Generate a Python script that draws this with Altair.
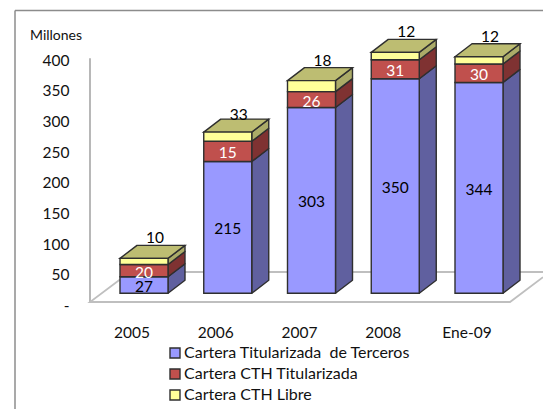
import altair as alt
import pandas as pd

# ---- values ----
categories = ["2005", "2006", "2007", "2008", "Ene-09"]
terceros = [27, 215, 303, 350, 344]
cth_tit_height = [20, 33, 26, 31, 30]   # drawn height of the red block
cth_libre_height = [10, 15, 18, 12, 12]  # drawn height of the yellow block
cth_tit_label = [20, 15, 26, 31, 30]    # printed labels (2006 is printed swapped)
cth_libre_label = [10, 33, 18, 12, 12]
y_ticks = [0, 50, 100, 150, 200, 250, 300, 350, 400]
series = ["Cartera Titularizada\u00a0\u00a0de Terceros", "Cartera CTH Titularizada", "Cartera CTH Libre"]

FRONT = ["#9999FF", "#C0504D", "#FFFF99"]
SIDE = ["#60609F", "#7F3232", "#ABAB68"]
TOP = "#BDBD72"
EDGE = "#2F2F2F"
FONT = "Lato"

# ---- scale geometry ----
W, H = 535, 401
STEP = 83.75          # px per category
PXV = 0.613           # px per value
X_DOM = [(8 - 120) / STEP, (543 - 120) / STEP]
Y_DOM = [(305.3 - 409) / PXV, (305.3 - 8) / PXV]
BAR_W = 48 / STEP
DX = 17 / STEP        # depth of the 3-D box
DY = 13 / PXV
BASE = 12 / PXV       # front floor of the bars over the axis zero

xs = alt.Scale(domain=X_DOM, nice=False, zero=False)
ys = alt.Scale(domain=Y_DOM, nice=False, zero=False)
Y_AXIS = alt.Axis(
    values=y_ticks, domain=False, ticks=False, grid=False, title=None,
    labelPadding=0, offset=-61, labelFont=FONT, labelFontSize=15.5, labelColor="#111",
    labelExpr="datum.value === 0 ? '-' : datum.label")
X = lambda f: alt.X(f, type="quantitative", scale=xs, axis=None, stack=None)
Y = lambda f: alt.Y(f, type="quantitative", scale=ys, axis=Y_AXIS, stack=None)

# ---- tables ----
front, side, top, labels = [], [], [], []
for i, cat in enumerate(categories):
    vals = [terceros[i], cth_tit_height[i], cth_libre_height[i]]
    texts = [terceros[i], cth_tit_label[i], cth_libre_label[i]]
    lo = BASE
    r = i + BAR_W
    for s, v in enumerate(vals):
        hi = lo + v
        front.append(dict(x=i, x2=r, y=lo, y2=hi, serie=series[s]))
        side.append(dict(id=f"{i}-{s}", x=r, y=lo, y2=hi, c=SIDE[s]))
        side.append(dict(id=f"{i}-{s}", x=r + DX, y=lo + DY, y2=hi + DY, c=SIDE[s]))
        if s < 2:
            labels.append(dict(x=i + BAR_W / 2, y=(lo + hi) / 2, t=str(texts[s]),
                               c="white" if s == 1 else "black"))
        else:
            nudge = 3 if i == 1 else 0
            labels.append(dict(x=i + BAR_W / 2 + 11 / STEP, y=hi + (22 - nudge) / PXV,
                               t=str(texts[s]), c="black"))
        lo = hi
    top.append(dict(id=i, y=lo, x=i, x2=r))
    top.append(dict(id=i, y=lo + DY, x=i + DX, x2=r + DX))
df_front, df_side, df_top, df_lab = map(pd.DataFrame, (front, side, top, labels))

# floor outline and wall
fl, fr = -30 / STEP, 390 / STEP
ff, fb = 3.3 / PXV, 33.3 / PXV
fd = 40 / STEP
back = pd.DataFrame(dict(x=[fl + fd], x2=[X_DOM[1]], y=[fb]))
wall = pd.DataFrame(dict(x=[fl], y=[ff], y2=[403]))

axis_layer = alt.Chart(wall).mark_rule(color="#A6A6A6", strokeWidth=1.6).encode(
    x=X("x"), y=Y("y"), y2="y2:Q")
floor_df = pd.DataFrame(dict(
    o=range(4),
    x=[fl + fd, fl, fr, X_DOM[1]],
    y=[fb, ff, ff, ff + (X_DOM[1] - fr) * STEP * 0.75 / PXV],
))
floor_layer = alt.Chart(floor_df).mark_line(color="#BFBFBF", strokeWidth=1.8).encode(
    x=X("x"), y=Y("y"), order="o:Q")
back_layer = alt.Chart(back).mark_rule(color="#BFBFBF", strokeWidth=1.8).encode(
    x=X("x"), x2="x2:Q", y=Y("y"))

# page border (top and left only)
bx, by = (15 - 120) / STEP, (305.3 - 10.5) / PXV
border_v = alt.Chart(pd.DataFrame(dict(x=[bx], y=[Y_DOM[0]], y2=[by]))).mark_rule(
    color="#8C8C8C", strokeWidth=1.5).encode(x=X("x"), y=Y("y"), y2="y2:Q")
border_h = alt.Chart(pd.DataFrame(dict(x=[bx], x2=[X_DOM[1]], y=[by]))).mark_rule(
    color="#8C8C8C", strokeWidth=1.5).encode(x=X("x"), x2="x2:Q", y=Y("y"))

sides = alt.Chart(df_side).mark_area(stroke=EDGE, strokeWidth=1.4, strokeJoin="round", opacity=1).encode(
    x=X("x"), y=Y("y"), y2="y2:Q", detail="id:N",
    fill=alt.Fill("c:N", scale=None))
tops = alt.Chart(df_top).mark_area(orient="horizontal", fill=TOP, stroke=EDGE, strokeWidth=1.4, opacity=1).encode(
    y=Y("y"), x=X("x"), x2="x2:Q", detail="id:N")
fronts = alt.Chart(df_front).mark_rect(stroke=EDGE, strokeWidth=1.4).encode(
    x=X("x"), x2="x2:Q", y=Y("y"), y2="y2:Q",
    fill=alt.Fill("serie:N", scale=alt.Scale(domain=series, range=FRONT), legend=alt.Legend(
        orient="none", legendX=159, legendY=337, title=None, symbolType="square",
        symbolSize=100, symbolStrokeColor=EDGE, symbolStrokeWidth=1.4,
        labelFont=FONT, labelFontSize=16, labelColor="#111", rowPadding=5, labelOffset=1,
        labelLimit=300)),
)
txt = alt.Chart(df_lab).mark_text(font=FONT, fontSize=15.5, baseline="middle", align="center", dy=2).encode(
    x=X("x"), y=Y("y"), text="t:N", color=alt.Color("c:N", scale=None))

cat_df = pd.DataFrame(dict(x=[i + BAR_W / 2 - 12 / STEP for i in range(5)], y=[(305.3 - 333) / PXV] * 5, t=categories))
cats = alt.Chart(cat_df).mark_text(font=FONT, fontSize=15.5, baseline="middle", align="center", color="#111").encode(
    x=X("x"), y=Y("y"), text="t:N")
mill = alt.Chart(pd.DataFrame(dict(x=[(30 - 120) / STEP], y=[(305.3 - 36) / PXV], t=["Millones"]))).mark_text(
    font=FONT, fontSize=14, baseline="middle", align="left", color="#111").encode(
    x=X("x"), y=Y("y"), text="t:N")

chart = alt.layer(axis_layer, floor_layer, back_layer, border_v, border_h, sides, tops, fronts, txt, cats, mill).properties(
    width=W, height=H, padding=0, autosize=alt.AutoSizeParams(type="none"), background="white",
).configure_view(stroke=None)

chart.save("out.html", embed_options={"renderer": "svg", "actions": False})
